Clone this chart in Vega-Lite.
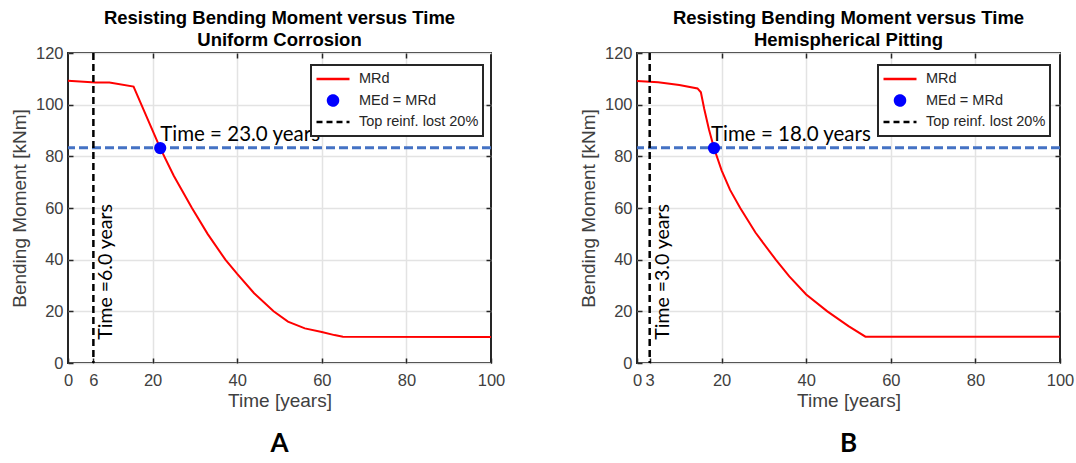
{
  "$schema": "https://vega.github.io/schema/vega-lite/v6.json",
  "background": "white",
  "padding": {"left": 9, "top": 7, "right": 2, "bottom": 2},
  "spacing": 18,
  "datasets": {
    "curveA": [
      {"t": 0, "m": 109.3, "series": "MRd"},
      {"t": 6.5, "m": 108.6, "series": "MRd"},
      {"t": 9.8, "m": 108.6, "series": "MRd"},
      {"t": 15.5, "m": 107.0, "series": "MRd"},
      {"t": 21.8, "m": 83.2, "series": "MRd"},
      {"t": 25, "m": 72.5, "series": "MRd"},
      {"t": 29.3, "m": 60, "series": "MRd"},
      {"t": 33, "m": 50, "series": "MRd"},
      {"t": 37.2, "m": 40, "series": "MRd"},
      {"t": 40, "m": 34.5, "series": "MRd"},
      {"t": 44, "m": 27, "series": "MRd"},
      {"t": 48.6, "m": 20, "series": "MRd"},
      {"t": 52, "m": 16, "series": "MRd"},
      {"t": 56, "m": 13.4, "series": "MRd"},
      {"t": 60, "m": 12.0, "series": "MRd"},
      {"t": 63, "m": 10.8, "series": "MRd"},
      {"t": 65, "m": 10.2, "series": "MRd"},
      {"t": 100, "m": 10.1, "series": "MRd"}
    ],
    "curveB": [
      {"t": 0, "m": 109.2, "series": "MRd"},
      {"t": 5, "m": 108.7, "series": "MRd"},
      {"t": 10, "m": 107.6, "series": "MRd"},
      {"t": 14.3, "m": 106.3, "series": "MRd"},
      {"t": 15.1, "m": 104.8, "series": "MRd"},
      {"t": 15.9, "m": 98.3, "series": "MRd"},
      {"t": 17, "m": 90.5, "series": "MRd"},
      {"t": 18.2, "m": 83.2, "series": "MRd"},
      {"t": 20, "m": 74.6, "series": "MRd"},
      {"t": 22, "m": 67, "series": "MRd"},
      {"t": 24.4, "m": 60, "series": "MRd"},
      {"t": 28, "m": 50.5, "series": "MRd"},
      {"t": 32.8, "m": 40, "series": "MRd"},
      {"t": 36, "m": 33.5, "series": "MRd"},
      {"t": 40, "m": 26.5, "series": "MRd"},
      {"t": 45, "m": 20, "series": "MRd"},
      {"t": 50, "m": 14.3, "series": "MRd"},
      {"t": 54, "m": 10.2, "series": "MRd"},
      {"t": 100, "m": 10.2, "series": "MRd"}
    ],
    "ruleA": [{"t": 6, "series": "Top reinf. lost 20%"}],
    "ruleB": [{"t": 3, "series": "Top reinf. lost 20%"}],
    "limit": [{"m": 83.3}],
    "pointA": [{"t": 21.8, "m": 83.2, "series": "MEd = MRd", "label": "Time = 23.0 years"}],
    "pointB": [{"t": 18.2, "m": 83.2, "series": "MEd = MRd", "label": "Time = 18.0 years"}],
    "vtextA": [{"t": 6, "m": 9, "label": "Time =6.0 years"}],
    "vtextB": [{"t": 3, "m": 9, "label": "Time =3.0 years"}],
    "labA": [{"lab": "A"}],
    "labB": [{"lab": "B"}]
  },
  "config": {
    "view": {"stroke": "#262626", "strokeWidth": 2},
    "axis": {
      "labelFont": "Liberation Sans", "labelFontSize": 16.5, "labelColor": "#404040",
      "titleFont": "Liberation Sans", "titleFontSize": 19, "titleFontWeight": "normal", "titleColor": "#404040",
      "domain": false, "tickColor": "#262626", "tickSize": -5, "tickWidth": 1.5,
      "gridColor": "#e3e3e3", "gridWidth": 1.5,
      "labelFlush": false, "labelOverlap": false, "labelBound": false
    },
    "axisX": {"labelPadding": 14, "titlePadding": 3},
    "axisY": {"labelPadding": 10, "titlePadding": 6}
  },
  "vconcat": [
    {
      "bounds": "flush",
      "spacing": 146,
      "resolve": {"scale": {"color": "independent"}, "legend": {"color": "independent"}},
      "hconcat": [
        {
          "width": 423, "height": 310,
          "title": {"text": ["Resisting Bending Moment versus Time", "Uniform Corrosion"], "font": "Liberation Sans", "fontSize": 18.5, "fontWeight": "bold", "color": "#000000", "lineHeight": 22, "offset": -4, "frame": "group"},
          "layer": [
            {
              "data": {"name": "curveA"},
              "mark": {"type": "line", "strokeWidth": 2},
              "encoding": {
                "x": {"field": "t", "type": "quantitative", "scale": {"domain": [0, 100], "nice": false, "zero": false},
                  "axis": {"orient": "bottom", "values": [0, 6, 20, 40, 60, 80, 100], "title": "Time [years]", "grid": true,
                    "gridColor": {"condition": {"test": "datum.value === 6 || datum.value === 0 || datum.value === 100", "value": "transparent"}, "value": "#e3e3e3"}}},
                "y": {"field": "m", "type": "quantitative", "scale": {"domain": [0, 120], "nice": false, "zero": false},
                  "axis": {"orient": "left", "values": [0, 20, 40, 60, 80, 100, 120], "title": "Bending Moment [kNm]", "grid": true}},
                "color": {"field": "series", "type": "nominal",
                  "scale": {"domain": ["MRd", "MEd = MRd", "Top reinf. lost 20%"], "range": ["#ff0000", "#0000ff", "#000000"]},
                  "legend": {
                    "title": null, "orient": "none", "legendX": 243, "legendY": 12,
                    "fillColor": "white", "strokeColor": "#262626", "padding": 4,
                    "symbolSize": 1089, "clipHeight": 20, "rowPadding": 1.5, "labelOffset": 8,
                    "labelFont": "Liberation Sans", "labelFontSize": 14.5, "labelColor": "#262626",
                    "encode": {
                      "legend": {"update": {"strokeWidth": {"value": 2}}},
                      "symbols": {"update": {
                        "shape": {"signal": "datum.value === 'MEd = MRd' ? 'circle' : 'stroke'"},
                        "size": {"signal": "datum.value === 'MEd = MRd' ? 100 : 1089"},
                        "fill": {"signal": "datum.value === 'MEd = MRd' ? '#0000ff' : 'transparent'"},
                        "stroke": {"signal": "datum.value === 'MRd' ? '#ff0000' : (datum.value === 'MEd = MRd' ? 'transparent' : '#000000')"},
                        "strokeDash": {"signal": "datum.value === 'Top reinf. lost 20%' ? [6, 4] : [1, 0]"},
                        "strokeWidth": {"value": 2.5},
                        "opacity": {"value": 1}
                      }}
                    }
                  }}
              }
            },
            {
              "data": {"name": "limit"},
              "mark": {"type": "rule", "color": "#4472C4", "strokeWidth": 3, "strokeDash": [9, 4]},
              "encoding": {"y": {"field": "m", "type": "quantitative", "axis": null}}
            },
            {
              "data": {"name": "ruleA"},
              "mark": {"type": "rule", "strokeWidth": 2.5, "strokeDash": [7, 4]},
              "encoding": {
                "x": {"field": "t", "type": "quantitative",
                  "axis": {"orient": "top", "labels": false, "grid": false, "title": null, "values": [20, 40, 60, 80]}},
                "color": {"field": "series", "type": "nominal"}
              }
            },
            {
              "data": {"name": "pointA"},
              "mark": {"type": "circle", "size": 150, "opacity": 1},
              "encoding": {
                "x": {"field": "t", "type": "quantitative", "axis": null},
                "y": {"field": "m", "type": "quantitative",
                  "axis": {"orient": "right", "labels": false, "grid": false, "title": null, "values": [20, 40, 60, 80, 100]}},
                "color": {"field": "series", "type": "nominal"}
              }
            },
            {
              "data": {"name": "pointA"},
              "mark": {"type": "text", "align": "left", "baseline": "bottom", "dx": 0, "dy": -3, "font": "Lato", "fontSize": 20.5, "color": "#000000"},
              "encoding": {
                "x": {"field": "t", "type": "quantitative", "axis": null},
                "y": {"field": "m", "type": "quantitative", "axis": null},
                "text": {"field": "label"}
              }
            },
            {
              "data": {"name": "vtextA"},
              "mark": {"type": "text", "angle": 270, "align": "left", "baseline": "top", "dy": 4, "font": "Lato", "fontSize": 19.5, "color": "#000000"},
              "encoding": {
                "x": {"field": "t", "type": "quantitative", "axis": null},
                "y": {"field": "m", "type": "quantitative", "axis": null},
                "text": {"field": "label"}
              }
            }
          ]
        },
        {
          "width": 423, "height": 310,
          "title": {"text": ["Resisting Bending Moment versus Time", "Hemispherical Pitting"], "font": "Liberation Sans", "fontSize": 18.5, "fontWeight": "bold", "color": "#000000", "lineHeight": 22, "offset": -4, "frame": "group"},
          "layer": [
            {
              "data": {"name": "curveB"},
              "mark": {"type": "line", "strokeWidth": 2},
              "encoding": {
                "x": {"field": "t", "type": "quantitative", "scale": {"domain": [0, 100], "nice": false, "zero": false},
                  "axis": {"orient": "bottom", "values": [0, 3, 20, 40, 60, 80, 100], "title": "Time [years]", "grid": true,
                    "gridColor": {"condition": {"test": "datum.value === 3 || datum.value === 0 || datum.value === 100", "value": "transparent"}, "value": "#e3e3e3"}}},
                "y": {"field": "m", "type": "quantitative", "scale": {"domain": [0, 120], "nice": false, "zero": false},
                  "axis": {"orient": "left", "values": [0, 20, 40, 60, 80, 100, 120], "title": "Bending Moment [kNm]", "grid": true}},
                "color": {"field": "series", "type": "nominal",
                  "scale": {"domain": ["MRd", "MEd = MRd", "Top reinf. lost 20%"], "range": ["#ff0000", "#0000ff", "#000000"]},
                  "legend": {
                    "title": null, "orient": "none", "legendX": 241, "legendY": 12,
                    "fillColor": "white", "strokeColor": "#262626", "padding": 4,
                    "symbolSize": 1089, "clipHeight": 20, "rowPadding": 1.5, "labelOffset": 8,
                    "labelFont": "Liberation Sans", "labelFontSize": 14.5, "labelColor": "#262626",
                    "encode": {
                      "legend": {"update": {"strokeWidth": {"value": 2}}},
                      "symbols": {"update": {
                        "shape": {"signal": "datum.value === 'MEd = MRd' ? 'circle' : 'stroke'"},
                        "size": {"signal": "datum.value === 'MEd = MRd' ? 100 : 1089"},
                        "fill": {"signal": "datum.value === 'MEd = MRd' ? '#0000ff' : 'transparent'"},
                        "stroke": {"signal": "datum.value === 'MRd' ? '#ff0000' : (datum.value === 'MEd = MRd' ? 'transparent' : '#000000')"},
                        "strokeDash": {"signal": "datum.value === 'Top reinf. lost 20%' ? [6, 4] : [1, 0]"},
                        "strokeWidth": {"value": 2.5},
                        "opacity": {"value": 1}
                      }}
                    }
                  }}
              }
            },
            {
              "data": {"name": "limit"},
              "mark": {"type": "rule", "color": "#4472C4", "strokeWidth": 3, "strokeDash": [9, 4]},
              "encoding": {"y": {"field": "m", "type": "quantitative", "axis": null}}
            },
            {
              "data": {"name": "ruleB"},
              "mark": {"type": "rule", "strokeWidth": 2.5, "strokeDash": [7, 4]},
              "encoding": {
                "x": {"field": "t", "type": "quantitative",
                  "axis": {"orient": "top", "labels": false, "grid": false, "title": null, "values": [20, 40, 60, 80]}},
                "color": {"field": "series", "type": "nominal"}
              }
            },
            {
              "data": {"name": "pointB"},
              "mark": {"type": "circle", "size": 150, "opacity": 1},
              "encoding": {
                "x": {"field": "t", "type": "quantitative", "axis": null},
                "y": {"field": "m", "type": "quantitative",
                  "axis": {"orient": "right", "labels": false, "grid": false, "title": null, "values": [20, 40, 60, 80, 100]}},
                "color": {"field": "series", "type": "nominal"}
              }
            },
            {
              "data": {"name": "pointB"},
              "mark": {"type": "text", "align": "left", "baseline": "bottom", "dx": -3, "dy": -3, "font": "Lato", "fontSize": 20.5, "color": "#000000"},
              "encoding": {
                "x": {"field": "t", "type": "quantitative", "axis": null},
                "y": {"field": "m", "type": "quantitative", "axis": null},
                "text": {"field": "label"}
              }
            },
            {
              "data": {"name": "vtextB"},
              "mark": {"type": "text", "angle": 270, "align": "left", "baseline": "top", "dy": 4, "font": "Lato", "fontSize": 19.5, "color": "#000000"},
              "encoding": {
                "x": {"field": "t", "type": "quantitative", "axis": null},
                "y": {"field": "m", "type": "quantitative", "axis": null},
                "text": {"field": "label"}
              }
            }
          ]
        }
      ]
    },
    {
      "bounds": "flush",
      "spacing": 146,
      "hconcat": [
        {
          "width": 423, "height": 28,
          "view": {"stroke": null},
          "data": {"name": "labA"},
          "mark": {"type": "text", "font": "Lato", "fontSize": 26, "fontWeight": "bold", "color": "#000000"},
          "encoding": {"text": {"field": "lab"}}
        },
        {
          "width": 423, "height": 28,
          "view": {"stroke": null},
          "data": {"name": "labB"},
          "mark": {"type": "text", "font": "Lato", "fontSize": 26, "fontWeight": "bold", "color": "#000000"},
          "encoding": {"text": {"field": "lab"}}
        }
      ]
    }
  ]
}
